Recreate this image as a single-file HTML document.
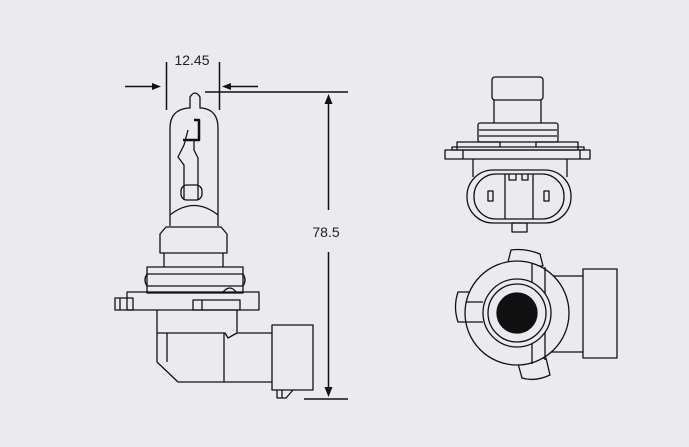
<!DOCTYPE html>
<html><head><meta charset="utf-8"><style>
html,body{margin:0;padding:0;background:#ebebef;}
svg{display:block}
</style></head><body>
<svg width="689" height="447" viewBox="0 0 689 447" xmlns="http://www.w3.org/2000/svg" fill="none" stroke="#111" stroke-width="1.3" stroke-linejoin="round">
<rect x="0" y="0" width="689" height="447" fill="#ebebef" stroke="none"/>
<!-- dimensions -->
<g stroke-width="1.5">
<line x1="166.5" y1="62" x2="166.5" y2="110"/>
<line x1="219.5" y1="62" x2="219.5" y2="110"/>
<line x1="125" y1="86.5" x2="155" y2="86.5"/>
<line x1="228" y1="86.5" x2="258" y2="86.5"/>
<line x1="205" y1="92" x2="348" y2="92"/>
<line x1="304" y1="399" x2="348" y2="399"/>
<line x1="328.5" y1="102" x2="328.5" y2="210"/>
<line x1="328.5" y1="252" x2="328.5" y2="389"/>
</g>
<g fill="#111" stroke="none">
<polygon points="161,86.5 152,83 152,90"/>
<polygon points="222,86.5 231,83 231,90"/>
<polygon points="328.5,94 324.5,104 332.5,104"/>
<polygon points="328.5,397 324.5,387 332.5,387"/>
</g>
<text x="192" y="65" font-family="Liberation Sans, sans-serif" font-size="14" fill="#222" stroke="none" text-anchor="middle">12.45</text>
<text x="326" y="237" font-family="Liberation Sans, sans-serif" font-size="14" fill="#222" stroke="none" text-anchor="middle">78.5</text>
<!-- bulb side view -->
<path d="M170,226 L170,128 Q170,110 188,108 L190,108 L190,97 Q195,89 200,97 L200,108 L202,108 Q218,110 218,128 L218,226"/>
<path d="M170,215 Q194,196 218,215"/>
<path d="M160,253 L160,234 L166,227 L221,227 L227,234 L227,253 Z"/>
<path d="M164,253 L164,267 M223,253 L223,267"/>
<rect x="147" y="267" width="96" height="26"/>
<path d="M147,274 Q143,280 147,286 M243,274 Q247,280 243,286 M147,274 L243,274 M147,286 L243,286"/>
<rect x="127" y="292" width="132" height="18"/>
<rect x="115" y="298" width="18" height="12"/>
<line x1="120" y1="298" x2="120" y2="310"/>
<rect x="193" y="300" width="47" height="10"/>
<line x1="202" y1="300" x2="202" y2="310"/>
<path d="M223,292 Q230,284 236,292"/>
<!-- filament -->
<path d="M184,200 L184,165 L178,157 L184,145 L188,130 M198,200 L198,165 L198,158 L194,150 L194,140 L199,140"/>
<path d="M183,140 L199,140 L199,120 L194,120" stroke-width="2.5"/>
<rect x="181" y="185" width="21" height="15" rx="6"/>
<!-- base -->
<path d="M157,310 L157,362 L178,382 L272,382 M237,310 L237,333"/>
<path d="M157,333 L225,333 L228,338 L237,333 L272,333"/>
<line x1="167" y1="333" x2="167" y2="362"/>
<line x1="224" y1="333" x2="224" y2="382"/>
<rect x="272" y="325" width="41" height="65"/>
<path d="M277,390 L277,398 L286,398 L293,390 M282,390 L282,398"/>
<!-- right top view -->
<rect x="492" y="77" width="51" height="23" rx="3"/>
<path d="M494,100 L494,123 M541,100 L541,123"/>
<rect x="478" y="123" width="80" height="19" rx="2"/>
<line x1="479" y1="130" x2="557" y2="130"/>
<line x1="479" y1="136" x2="557" y2="136"/>
<path d="M457,150 L457,142 L500,142 L500,147 M536,147 L536,142 L578,142 L578,150"/>
<rect x="452" y="147" width="132" height="3"/>
<rect x="445" y="150" width="145" height="9"/>
<line x1="463" y1="150" x2="463" y2="159"/>
<line x1="580" y1="150" x2="580" y2="159"/>
<path d="M473,159 L473,177 M567,159 L567,177"/>
<rect x="467" y="170" width="104" height="53" rx="26"/>
<rect x="474" y="174" width="90" height="45" rx="22"/>
<path d="M505,174 L505,219 M533,174 L533,219 M509,174 L509,180 L516,180 L516,174 M522,174 L522,180 L528,180 L528,174"/>
<rect x="488" y="191" width="5" height="10"/>
<rect x="544" y="191" width="5" height="10"/>
<rect x="512" y="223" width="15" height="9"/>
<!-- right bottom view -->
<path d="M507,266 L511,250 Q525,248 540,254 L543,266 Z" fill="#ebebef"/>
<path d="M517,360 L522,378 Q535,382 550,375 L546,358 Z" fill="#ebebef"/>
<path d="M483,292 L458,292 Q453,307 458,322 L483,322 Z" fill="#ebebef"/>
<path d="M548,276 L583,276 M548,352 L583,352"/>
<rect x="583" y="269" width="34" height="89"/>
<circle cx="517" cy="313" r="52" fill="#ebebef"/>
<path d="M466,302 L483,302 M466,322 L483,322"/>
<path d="M532,263 L532,364 M545,267 L545,360"/>
<circle cx="517" cy="313" r="34" fill="#ebebef"/>
<circle cx="517" cy="313" r="29"/>
<circle cx="517" cy="313" r="20" fill="#111"/>
</svg>
</body></html>
